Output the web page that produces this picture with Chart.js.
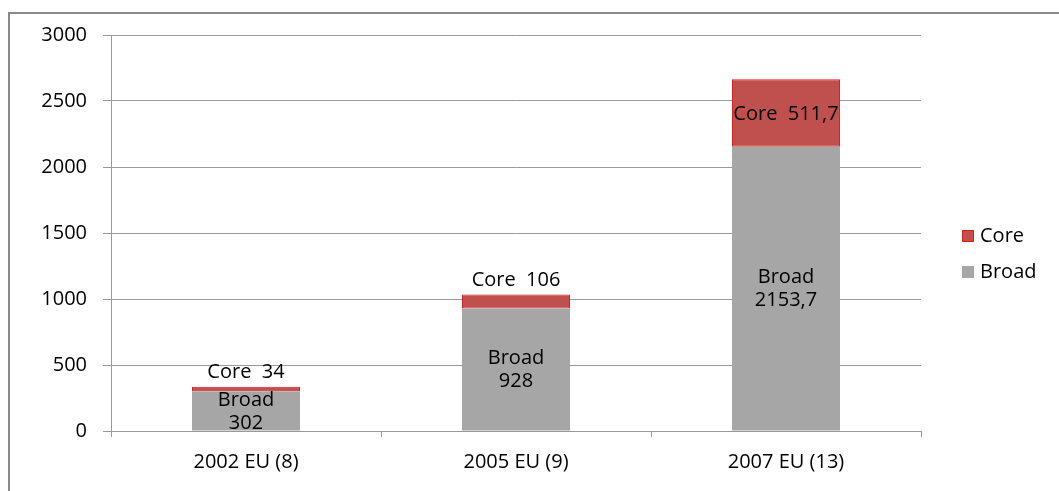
<!DOCTYPE html>
<html>
<head>
<meta charset="utf-8">
<script src="https://cdn.jsdelivr.net/npm/chart.js@4/dist/chart.umd.min.js"></script>
<style>
  html, body { margin: 0; padding: 0; background: #fff; overflow: hidden; }
  #frame { position: absolute; left: 8px; top: 12px; width: 1200px; height: 600px;
           border-left: 2px solid #8a8a8a; border-top: 2px solid #8a8a8a; }
  #wrap { position: absolute; left: 0; top: 0; width: 1059px; height: 491px; }
</style>
</head>
<body>
<div id="frame"></div>
<div id="wrap"><canvas id="c"></canvas></div>
<script>
// ── Data ─────────────────────────────────────────────
const categories = ['2002 EU (8)', '2005 EU (9)', '2007 EU (13)'];
const broadVals  = [302, 928, 2153.7];
const coreVals   = [34, 106, 511.7];
const yTicks     = [0, 500, 1000, 1500, 2000, 2500, 3000];

const FONT = '"Open Sans", "DejaVu Sans", sans-serif';
const COL = {
  core: '#c0504d', coreEdge: '#dd1f1f',
  broad: '#a6a6a6', grid: '#9a9a9a', text: '#000',
};

const fmt = v => String(v).replace('.', ',');

// ── Plugins ──────────────────────────────────────────

// Excel-style data labels: Broad centred on two lines, Core centred or above if too thin
const barLabels = {
  id: 'barLabels',
  afterDatasetsDraw(chart) {
    const { ctx } = chart;
    ctx.save();
    ctx.font = '20px ' + FONT;
    ctx.fillStyle = COL.text;
    ctx.textAlign = 'center';
    ctx.textBaseline = 'middle';
    chart.data.datasets.forEach((ds, di) => {
      chart.getDatasetMeta(di).data.forEach((bar, i) => {
        const top = Math.min(bar.y, bar.base), bot = Math.max(bar.y, bar.base);
        const mid = (top + bot) / 2, h = bot - top;
        const val = fmt(ds.data[i]);
        if (ds.label === 'Broad') {
          ctx.fillText('Broad', bar.x, mid - 11);
          ctx.fillText(val, bar.x, mid + 12);
        } else if (h < 30) {
          ctx.fillText('Core  ' + val, bar.x, top - 14);
        } else {
          ctx.fillText('Core  ' + val, bar.x, mid + 1);
        }
      });
    });
    ctx.restore();
  },
};

// Legend at the right, Core above Broad
const sideLegend = {
  id: 'sideLegend',
  afterDraw(chart) {
    const { ctx, chartArea } = chart;
    const x = chartArea.right + 41;
    const midY = (chartArea.top + chartArea.bottom) / 2;
    const items = [
      { label: 'Core',  fill: COL.core,  edge: COL.coreEdge, y: midY + 3 },
      { label: 'Broad', fill: COL.broad, edge: COL.broad,    y: midY + 39 },
    ];
    ctx.save();
    ctx.font = '20px ' + FONT;
    ctx.textBaseline = 'middle';
    items.forEach(it => {
      ctx.fillStyle = it.fill;
      ctx.fillRect(x, it.y - 6, 12, 12);
      ctx.strokeStyle = it.edge;
      ctx.lineWidth = 1;
      ctx.strokeRect(x + 0.5, it.y - 5.5, 11, 11);
      ctx.fillStyle = COL.text;
      ctx.fillText(it.label, x + 18, it.y);
    });
    ctx.restore();
  },
};

// ── Chart ────────────────────────────────────────────
new Chart(document.getElementById('c'), {
  type: 'bar',
  data: {
    labels: categories,
    datasets: [
      { label: 'Broad', data: broadVals, backgroundColor: COL.broad, borderWidth: 0,
        categoryPercentage: 1, barPercentage: 0.4 },
      { label: 'Core',  data: coreVals,  backgroundColor: COL.core, borderColor: COL.coreEdge,
        borderWidth: 1, borderSkipped: false, categoryPercentage: 1, barPercentage: 0.4 },
    ],
  },
  options: {
    responsive: true, maintainAspectRatio: false, animation: false,
    layout: { padding: { top: 35, right: 138, bottom: 0, left: 0 } },
    plugins: { legend: { display: false }, tooltip: { enabled: false } },
    scales: {
      x: {
        stacked: true, offset: true,
        grid: { display: true, offset: true, drawOnChartArea: false, color: COL.grid, tickLength: 6, lineWidth: 1 },
        border: { color: COL.grid, width: 1 },
        ticks: { color: COL.text, font: { family: FONT, size: 20 }, padding: 13 },
        afterFit: s => { s.height = 60; },
      },
      y: {
        stacked: true, min: 0, max: 3000,
        afterBuildTicks: s => { s.ticks = yTicks.map(v => ({ value: v })); },
        grid: { color: COL.grid, tickLength: 8, lineWidth: 1 },
        border: { color: COL.grid, width: 1 },
        ticks: { color: COL.text, font: { family: FONT, size: 20 }, padding: 16, callback: v => String(v) },
        afterFit: s => { s.width = 111; },
      },
    },
  },
  plugins: [barLabels, sideLegend],
});
</script>
</body>
</html>
